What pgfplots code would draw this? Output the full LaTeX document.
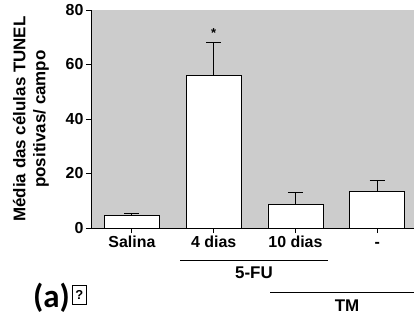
\documentclass[border=0pt]{standalone}
\usepackage{pgfplots}
\pgfplotsset{compat=1.18}
\usepackage{fontspec}
\setmainfont{Liberation Sans}
\newfontfamily\carl{Carlito}
\definecolor{bg}{HTML}{CCCCCC}
\begin{document}
\begin{tikzpicture}
\path[use as bounding box] (-91bp,-92bp) rectangle (323bp,228bp);
\begin{axis}[
  at={(0,0)}, anchor=south west,
  scale only axis, width=323bp, height=218bp,
  axis background/.style={fill=bg},
  axis x line*=bottom, axis y line*=left,
  axis line style={black, line width=0.9pt},
  xmin=-0.5, xmax=3.45, ymin=0, ymax=80,
  ytick={0,20,40,60,80},
  xtick={0,1,2,3},
  xticklabels={Salina,4 dias,10 dias,-},
  tick align=outside, major tick length=5bp,
  tick style={black, line width=0.8pt},
  ticklabel style={font=\bfseries\fontsize{16}{17}\selectfont},
  yticklabel style={xshift=1bp},
  xticklabel style={yshift=1bp, text height=12bp, text depth=3bp, anchor=north},
  /pgf/number format/assume math mode=true,
  ylabel={Média das células TUNEL\\positivas/ campo},
  ylabel style={align=center, font=\bfseries\fontsize{17}{20}\selectfont, at={(axis description cs:-0.13,0.5)}, anchor=south, inner sep=0pt},
  ybar, bar width=55bp,
  clip=false,
]
\addplot[fill=white, draw=black, line width=0.8pt,
  error bars/.cd, y dir=plus, y explicit,
  error bar style={black, line width=0.8pt},
  error mark options={rotate=90, mark size=7.5bp, line width=0.8pt}]
  coordinates {(0,4.6) +- (0,0.6) (1,56) +- (0,12.2) (2,8.8) +- (0,4.1) (3,13.3) +- (0,4.1)};
\node[font=\bfseries\fontsize{13}{13}\selectfont] at (axis cs:1,71.5) {*};
\end{axis}
\draw[line width=0.9pt] (89bp,-32bp) -- (237bp,-32bp);
\node[font=\bfseries\fontsize{17}{17}\selectfont] at (163bp,-44.5bp) {5-FU};
\draw[line width=0.9pt] (179bp,-64bp) -- (323bp,-64bp);
\node[font=\bfseries\fontsize{17}{17}\selectfont] at (256bp,-77.5bp) {TM};
\node[font=\carl\bfseries\fontsize{33}{33}\selectfont, anchor=west, inner sep=0pt] at (-58bp,-70bp) {(a)};
\node[draw, line width=0.9pt, minimum width=14bp, minimum height=19bp, inner sep=0pt, font=\bfseries\fontsize{13}{13}\selectfont, anchor=west] at (-19bp,-67bp) {?};
\end{tikzpicture}
\end{document}
